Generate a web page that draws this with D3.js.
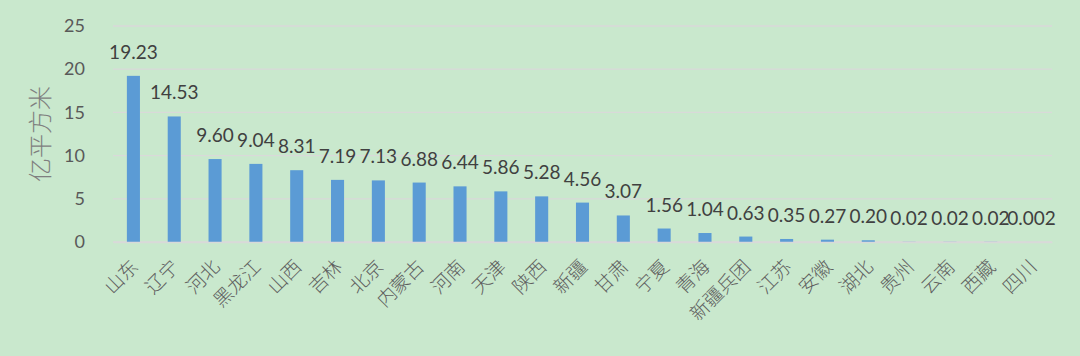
<!DOCTYPE html>
<html><head><meta charset="utf-8">
<script src="https://cdn.jsdelivr.net/npm/d3@7"></script>
<style>html,body{margin:0;padding:0;background:#C9E8CD;}svg{display:block;}</style>
</head><body>
<svg id="chart" width="1080" height="356"></svg>
<script>
const categories = ["山东","辽宁","河北","黑龙江","山西","吉林","北京","内蒙古","河南","天津","陕西","新疆","甘肃","宁夏","青海","新疆兵团","江苏","安徽","湖北","贵州","云南","西藏","四川"];
const values = [19.23,14.53,9.60,9.04,8.31,7.19,7.13,6.88,6.44,5.86,5.28,4.56,3.07,1.56,1.04,0.63,0.35,0.27,0.20,0.02,0.02,0.02,0.002];
const valueLabels = ["19.23","14.53","9.60","9.04","8.31","7.19","7.13","6.88","6.44","5.86","5.28","4.56","3.07","1.56","1.04","0.63","0.35","0.27","0.20","0.02","0.02","0.02","0.002"];
const yTicks = [0,5,10,15,20,25];
const yTitle = "亿平方米";

const svg = d3.select("#chart");
const W = 1080, H = 356;
svg.append("rect").attr("width", W).attr("height", H).attr("fill", "#C9E8CD");
const m = {left:113, right:1052, top:26, bottom:242};
const x = d3.scaleBand().domain(categories).range([m.left, m.right]).paddingInner(0.68).paddingOuter(0.34);
const y = d3.scaleLinear().domain([0,25]).range([m.bottom, m.top]);

const grid = svg.append("g");
grid.selectAll("line").data(yTicks).join("line")
  .attr("x1", m.left).attr("x2", m.right)
  .attr("y1", d => y(d)).attr("y2", d => y(d))
  .attr("stroke", "#D9D9D9").attr("stroke-width", 1.3);

const yAxis = svg.append("g").attr("transform", `translate(${m.left},0)`)
  .call(d3.axisLeft(y).tickValues(yTicks).tickSize(0).tickPadding(28));
yAxis.select(".domain").remove();
yAxis.selectAll("text").attr("font-family","Lato, 'Open Sans', sans-serif").attr("font-size", 18).attr("fill","#595959");

svg.append("text").attr("transform", `translate(49,134) rotate(-90)`)
  .attr("text-anchor","middle").attr("font-family","'Noto Sans CJK SC', sans-serif")
  .attr("font-size", 24).attr("font-weight", 300).attr("fill","#7F7F7F").text(yTitle);

svg.append("g").selectAll("rect").data(values).join("rect")
  .attr("x", (d,i) => x(categories[i])).attr("width", x.bandwidth())
  .attr("y", d => y(d)).attr("height", d => y(0) - y(d))
  .attr("fill", "#5B9BD5");

svg.append("g").selectAll("text").data(valueLabels).join("text")
  .attr("x", (d,i) => x(categories[i]) + x.bandwidth()/2)
  .attr("y", (d,i) => y(values[i]) - 17)
  .attr("text-anchor","middle").attr("font-family","Lato, 'Open Sans', sans-serif")
  .attr("font-size", 19).attr("fill","#404040").text(d => d);

const xAxis = svg.append("g").attr("transform", `translate(0,${m.bottom})`)
  .call(d3.axisBottom(x).tickSize(0).tickFormat(d => d));
xAxis.select(".domain").attr("stroke","#D9D9D9").attr("stroke-width",1.3);
xAxis.selectAll("text")
  .attr("font-family","'Noto Sans CJK SC', serif").attr("font-size", 19).attr("font-weight", 300)
  .attr("fill","#5F5F5F").attr("text-anchor","end")
  .attr("dy", null).attr("y", 0)
  .attr("transform", "translate(6,26) rotate(-45)");
</script>
</body></html>
